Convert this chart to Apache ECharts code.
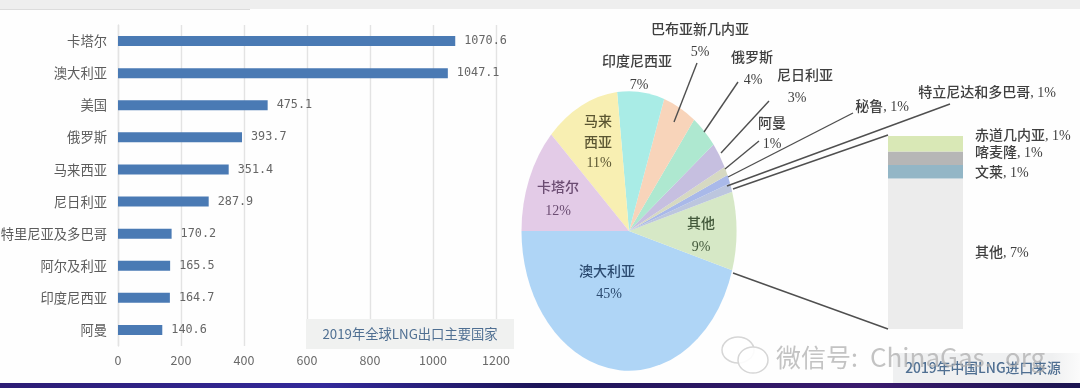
<!DOCTYPE html>
<html><head><meta charset="utf-8">
<style>html,body{margin:0;padding:0;background:#fefefe}#c{width:1080px;height:388px}</style>
<script src="https://cdn.jsdelivr.net/npm/echarts@6/dist/echarts.min.js"></script>
</head><body><div id="c"></div>
<script>
// bar chart data
const exportCountries = ['卡塔尔','澳大利亚','美国','俄罗斯','马来西亚','尼日利亚','特里尼亚及多巴哥','阿尔及利亚','印度尼西亚','阿曼'];
const exportValues = [1070.6,1047.1,475.1,393.7,351.4,287.9,170.2,165.5,164.7,140.6];
// pie data, from the left edge going through the bottom
const pieNames = ['澳大利亚','其他','特立尼达和多巴哥','秘鲁','阿曼','尼日利亚','俄罗斯','巴布亚新几内亚','印度尼西亚','马来西亚','卡塔尔'];
const pieValues = [45,9,1,1,1,3,4,5,7,11,12];
const pieColors = ['#afd5f6','#d6e8c6','#bcc6de','#a9b9e9','#d6d9c2','#c6bfe0','#aee8d0','#f8d4ba','#a9ece6','#f8efb2','#e3cbe7'];
// stacked bar: the breakdown of 其他, bottom to top
const stackNames = ['其他','文莱','喀麦隆','赤道几内亚'];
const stackValues = [7.8,0.7,0.7,0.8];
const stackColors = ['#ececec','#93b6c6','#b6b6b6','#d9e8b6'];

const serif = '"Liberation Serif","Noto Sans CJK SC"';
const pieFont = '500 14px ' + serif;
const txt = (t,x,y,fill,align,font) => ({type:'text',z:20,x,y,silent:true,style:{text:t,fill:fill||'#3f3f3f',align:align||'center',verticalAlign:'middle',font:font||pieFont}});
const seg = (x1,y1,x2,y2) => ({type:'line',z:15,silent:true,shape:{x1,y1,x2,y2},style:{stroke:'#4f4f4f',lineWidth:1.4}});

const pieLabels = [
 ['巴布亚新几内亚',700,30],['5%',700,52],['印度尼西亚',637,62],['7%',639,85],
 ['俄罗斯',752,58],['4%',753,80],['尼日利亚',805,76],['3%',797,98],['阿曼',772,124],['1%',772,144],
 ['马来',598,122,'#5b5632'],['西亚',598,143,'#5b5632'],['11%',599,163,'#5b5632'],
 ['卡塔尔',558,188,'#6b4c72'],['12%',558,211,'#6b4c72'],
 ['其他',701,224,'#42583a'],['9%',701,247,'#42583a'],
 ['澳大利亚',607,272,'#2b4a6f'],['45%',609,294,'#2b4a6f'],
 ['秘鲁, 1%',882,107],['特立尼达和多巴哥, 1%',987,93]
].map(a => txt(a[0],a[1],a[2],a[3]));
const stackLabels = [['赤道几内亚, 1%',136],['喀麦隆, 1%',153],['文莱, 1%',173],['其他, 7%',253]].map(a => txt(a[0],975,a[1],'#3f3f3f','left'));
const leaders = [[697,63,674,122],[738,82,704,132],[769,101,721,153],[759,141,725,169],[853,113,728,177],[950,104,727,186],[888,135,733,189],[733,273,888,329]].map(a => seg(...a));

const pieTotal = pieValues.reduce((s,v)=>s+v,0);
const cumBefore = pieValues.map((_,i)=>pieValues.slice(0,i).reduce((s,v)=>s+v,0));

const chart = echarts.init(document.getElementById('c'));
chart.setOption({
  animation:false,
  backgroundColor:'#fefefe',
  grid:[
    {left:118,top:25,width:378,height:321,outerBoundsMode:'none'},
    {left:888,top:136,width:75,height:193,outerBoundsMode:'none'}
  ],
  xAxis:[
    {gridIndex:0,type:'value',min:0,max:1200,interval:200,
     axisLine:{show:false},axisTick:{show:false},
     axisLabel:{color:'#6a6a6a',fontSize:12.5,margin:8,fontFamily:'"Noto Sans CJK SC"',formatter:v=>String(v),hideOverlap:false},
     splitLine:{lineStyle:{color:'#e3e3e3',width:1.4}}},
    {gridIndex:1,type:'category',data:['其他'],show:false}
  ],
  yAxis:[
    {gridIndex:0,type:'category',inverse:true,data:exportCountries,
     axisLine:{lineStyle:{color:'#e3e3e3',width:1.4}},axisTick:{show:false},
     axisLabel:{color:'#5c5c5c',fontSize:13.3,margin:11,fontFamily:'"Noto Sans CJK SC"'}},
    {gridIndex:1,type:'value',min:0,max:10,show:false,splitLine:{show:false}}
  ],
  series:[
    {type:'bar',xAxisIndex:0,yAxisIndex:0,data:exportValues,barWidth:10,
     itemStyle:{color:'#4a7ab4'},
     label:{show:true,position:'right',distance:9,color:'#666',fontSize:11.8,fontFamily:'"DejaVu Sans Mono"',formatter:p=>p.value.toFixed(1)}},
    ...stackNames.map((n,i)=>({type:'bar',name:n,stack:'s',xAxisIndex:1,yAxisIndex:1,barWidth:'100%',data:[stackValues[i]],itemStyle:{color:stackColors[i]}})),
    {type:'custom',coordinateSystem:'none',silent:true,z:5,data:pieValues.map(v=>[v]),
     renderItem:(params,api)=>{
       const i=params.dataIndex;
       const a0=Math.PI-cumBefore[i]/pieTotal*2*Math.PI;
       const a1=a0-api.value(0)/pieTotal*2*Math.PI;
       return {type:'sector',x:629,y:231,scaleX:1,scaleY:1.3,
         shape:{cx:0,cy:0,r:107.5,r0:0,startAngle:a1,endAngle:a0,clockwise:true},
         style:{fill:pieColors[i]}};
     }}
  ],
  graphic:{elements:[
    {type:'rect',z:1,silent:true,shape:{x:0,y:0,width:1080,height:9},style:{fill:'#eeeeee'}},
    {type:'rect',z:1,silent:true,shape:{x:0,y:9,width:250,height:1},style:{fill:'#dcdcdc'}},
    {type:'rect',z:12,silent:true,shape:{x:306,y:319,width:208,height:30},style:{fill:'#f0f1f0'}},
    txt('2019年全球LNG出口主要国家',410,334,'#4f6f92','center','13.3px "Noto Sans CJK SC"'),
    {type:'rect',z:12,silent:true,shape:{x:893,y:353,width:187,height:30},
     style:{fill:{type:'linear',x:0,y:0,x2:1,y2:0,colorStops:[{offset:0,color:'#eff0f1'},{offset:.85,color:'#eff0f1'},{offset:1,color:'#fbfbfb'}]}}},
    txt('2019年中国LNG进口来源',983,368,'#4f6f92','center','500 13.8px "Noto Sans CJK SC"'),
    {type:'rect',z:30,silent:true,shape:{x:0,y:383,width:1080,height:5},
     style:{fill:{type:'linear',x:0,y:0,x2:1,y2:0,colorStops:[{offset:0,color:'#2c1c74'},{offset:.3,color:'#33299a'},{offset:.5,color:'#1c1458'},{offset:.8,color:'#3a1a6e'},{offset:1,color:'#1b1450'}]}}},
    {type:'ellipse',z:24,silent:true,shape:{cx:738,cy:350,rx:16,ry:13},style:{fill:'rgba(255,255,255,.75)',stroke:'#d6d6d6',lineWidth:1.5}},
    {type:'ellipse',z:25,silent:true,shape:{cx:753,cy:360,rx:15,ry:13},style:{fill:'rgba(255,255,255,.9)',stroke:'#d6d6d6',lineWidth:1.5}},
    txt('微信号:',776,357,'rgba(175,175,175,.75)','left','25px "Noto Sans CJK SC"'),
    txt('ChinaGas.',870,357,'rgba(175,175,175,.75)','left','26px "Noto Sans CJK SC"'),
    txt('org',1005,357,'rgba(175,175,175,.75)','left','26px "Noto Sans CJK SC"'),
    ...leaders,...pieLabels,...stackLabels
  ]}
});
</script></body></html>
